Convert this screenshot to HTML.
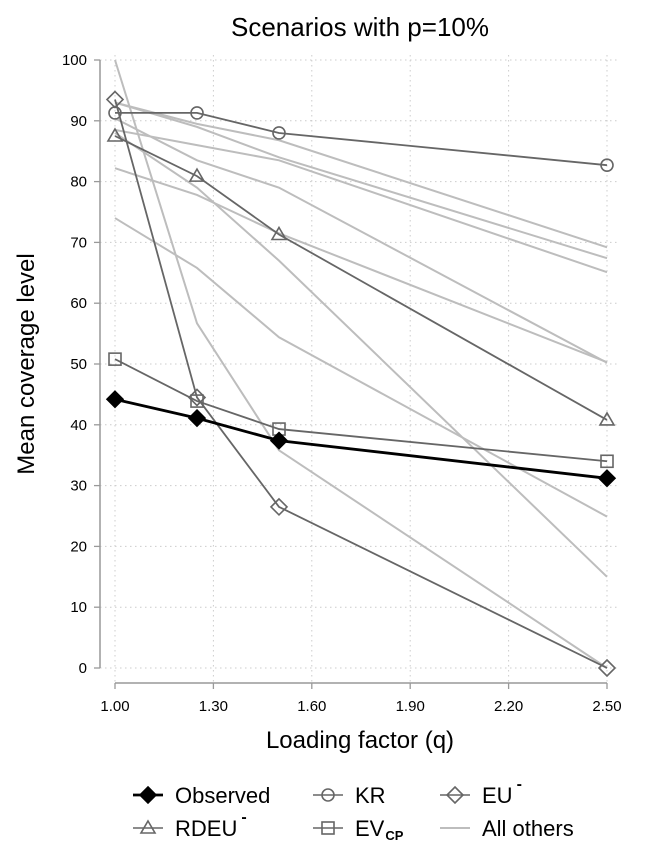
<!DOCTYPE html>
<html><head><meta charset="utf-8"><style>
body{margin:0;background:#fff;}
svg{display:block;font-family:"Liberation Sans",sans-serif;}
</style></head><body>
<svg id="c" width="648" height="864" viewBox="0 0 648 864">
<text x="360" y="36" font-size="26" text-anchor="middle" fill="#000">Scenarios with p=10%</text>
<g id="grid"></g>
<g id="axes"></g>
<g id="series"></g>
<text x="360" y="748" font-size="24" text-anchor="middle">Loading factor (q)</text>
<text transform="translate(34,364) rotate(-90)" font-size="24" text-anchor="middle">Mean coverage level</text>
<g id="legend" font-size="22"></g>
</svg>
<script>
const xs=[1.0,1.25,1.5,2.5];
const xTicks=[1.0,1.3,1.6,1.9,2.2,2.5];
const xTickLabels=["1.00","1.30","1.60","1.90","2.20","2.50"];
const yTicks=[0,10,20,30,40,50,60,70,80,90,100];
const observed=[44.2,41.1,37.4,31.2];
const kr=[91.3,91.3,88.0,82.7];
const euMinus=[93.5,44.5,26.5,0.0];
const rdeuMinus=[87.5,80.9,71.3,40.8];
const evcp=[50.8,43.9,39.3,34.0];
const other1=[74.0,65.8,54.4,24.9];
const other2=[100,56.7,35.8,0.0];
const other3=[88.0,79.0,67.0,15.0];
const other4=[82.2,77.8,71.5,50.3];
const other5=[90.4,83.5,79.0,50.2];
const other6=[93.0,89.5,86.8,69.2];
const other7=[93.0,89.0,84.0,67.4];
const other8=[88.5,86.0,83.5,65.1];
const others=[other1,other2,other3,other4,other5,other6,other7,other8];

const NS="http://www.w3.org/2000/svg";
const X=v=>115+(v-1)*(607-115)/1.5;
const Y=v=>668-v*6.08;
function mk(tag,attrs,parent){const e=document.createElementNS(NS,tag);for(const k in attrs)e.setAttribute(k,attrs[k]);parent.appendChild(e);return e;}
const grid=document.getElementById('grid'),axes=document.getElementById('axes'),ser=document.getElementById('series'),leg=document.getElementById('legend');

yTicks.forEach(t=>{
  const g=mk('line',{x1:100,x2:620,y1:Y(t),y2:Y(t),stroke:'#ccc','stroke-dasharray':'1.5 3.5','stroke-width':1},grid);
  
  
  const tk=mk('line',{x1:94,x2:100,y1:Y(t),y2:Y(t),stroke:'#999','stroke-width':1.3},axes);
  
  
  const lb=mk('text',{x:87,y:Y(t)+5,'font-size':15,'text-anchor':'end'},axes);
  lb.textContent=t;
  
  
});
xTicks.forEach((t,i)=>{
  const g=mk('line',{x1:X(t),x2:X(t),y1:55,y2:683,stroke:'#ccc','stroke-dasharray':'1.5 3.5','stroke-width':1},grid);
  
  
  const tk=mk('line',{x1:X(t),x2:X(t),y1:683,y2:689,stroke:'#999','stroke-width':1.3},axes);
  
  
  const lb=mk('text',{x:X(t),y:711,'font-size':15,'text-anchor':'middle'},axes);
  lb.textContent=xTickLabels[i];
  
  
});
const ya=mk('line',{x1:100,x2:100,y1:Y(100),y2:Y(0),stroke:'#999','stroke-width':1.5},axes);


const xa=mk('line',{x1:X(1),x2:X(2.5),y1:683,y2:683,stroke:'#999','stroke-width':1.5},axes);



function pts(arr){return arr.map((v,i)=>X(xs[i])+','+Y(v)).join(' ');}
others.forEach(a=>{
  const p=mk('polyline',{points:pts(a),fill:'none',stroke:'#bdbdbd','stroke-width':2},ser);
  
  
});
function marker(type,cx,cy,parent,col,fill){
  if(type==='circle')return mk('circle',{cx:cx,cy:cy,r:6,fill:fill,stroke:col,'stroke-width':1.6},parent);
  if(type==='square')return mk('rect',{x:cx-6,y:cy-6,width:12,height:12,fill:fill,stroke:col,'stroke-width':1.6},parent);
  if(type==='diamond')return mk('polygon',{points:`${cx},${cy-8} ${cx+8},${cy} ${cx},${cy+8} ${cx-8},${cy}`,fill:fill,stroke:col,'stroke-width':1.6},parent);
  if(type==='triangle')return mk('polygon',{points:`${cx},${cy-7} ${cx+7},${cy+5} ${cx-7},${cy+5}`,fill:fill,stroke:col,'stroke-width':1.6},parent);
}
const main=[
 {d:rdeuMinus,m:'triangle',c:'#666',f:'none',w:1.8,n:'rdeu-minus'},
 {d:kr,m:'circle',c:'#666',f:'none',w:1.8,n:'kr'},
 {d:euMinus,m:'diamond',c:'#666',f:'none',w:1.8,n:'eu-minus'},
 {d:evcp,m:'square',c:'#666',f:'none',w:1.8,n:'ev-cp'},
 {d:observed,m:'diamond',c:'#000',f:'#000',w:2.8,n:'observed'}
];
main.forEach(s=>{
  const p=mk('polyline',{points:pts(s.d),fill:'none',stroke:s.c,'stroke-width':s.w},ser);
  
  
  s.d.forEach((v,i)=>{
    const m=marker(s.m,X(xs[i]),Y(v),ser,s.c,s.f);
    
    
  });
});
const L=[
 {x:133,y:795,m:'diamond',c:'#000',f:'#000',w:2.8,t:'Observed',n:'legend-observed'},
 {x:313,y:795,m:'circle',c:'#666',f:'none',w:1.6,t:'KR',n:'legend-kr'},
 {x:440,y:795,m:'diamond',c:'#666',f:'none',w:1.6,t:'EU',sup:'-',n:'legend-eu-minus'},
 {x:133,y:828,m:'triangle',c:'#666',f:'none',w:1.6,t:'RDEU',sup:'-',n:'legend-rdeu-minus'},
 {x:313,y:828,m:'square',c:'#666',f:'none',w:1.6,t:'EV',sub:'CP',n:'legend-ev-cp'},
 {x:440,y:828,m:null,c:'#bdbdbd',f:'none',w:2,t:'All others',n:'legend-all-others'}
];
L.forEach(e=>{
  const g=mk('g',{},leg);
  
  
  mk('line',{x1:e.x,x2:e.x+30,y1:e.y,y2:e.y,stroke:e.c,'stroke-width':e.w},g);
  if(e.m)marker(e.m,e.x+15,e.y,g,e.c,e.f);
  const t=mk('text',{x:e.x+42,y:e.y+8},g);
  t.textContent=e.t;
  if(e.sup){const s=mk('tspan',{dx:4,dy:-14,'font-size':16,'font-weight':'bold'},t);s.textContent=e.sup;}
  if(e.sub){const s=mk('tspan',{dx:1,dy:4,'font-size':13,'font-weight':'bold'},t);s.textContent=e.sub;}
});
</script>
</body></html>
